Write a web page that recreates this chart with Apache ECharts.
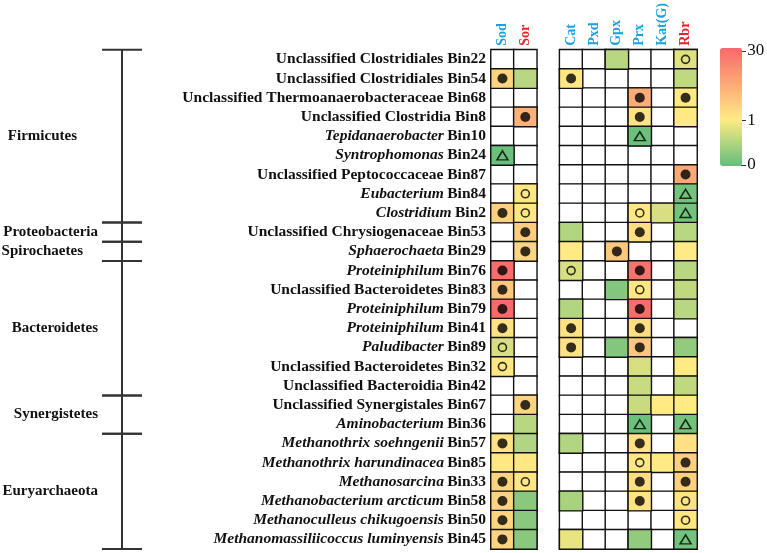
<!DOCTYPE html>
<html>
<head>
<meta charset="utf-8">
<script src="https://cdn.jsdelivr.net/npm/echarts@6/dist/echarts.min.js"></script>
<style>html,body{margin:0;padding:0;background:#fff}#main{width:767px;height:553px}</style>
</head>
<body>
<div id="main"></div>
<script type="text/javascript">
// enzyme columns (a blank gap column goes after Sor)
var enzymes = ['Sod', 'Sor', 'Cat', 'Pxd', 'Gpx', 'Prx', 'Kat(G)', 'Rbr'];
var redHeads = ['Sor', 'Rbr'];

// row labels: [italic part, plain part]
var bins = [
    ['', 'Unclassified Clostridiales Bin22'],
    ['', 'Unclassified Clostridiales Bin54'],
    ['', 'Unclassified Thermoanaerobacteraceae Bin68'],
    ['', 'Unclassified Clostridia Bin8'],
    ['Tepidanaerobacter', 'Bin10'],
    ['Syntrophomonas', 'Bin24'],
    ['', 'Unclassified Peptococcaceae Bin87'],
    ['Eubacterium', 'Bin84'],
    ['Clostridium', 'Bin2'],
    ['', 'Unclassified Chrysiogenaceae Bin53'],
    ['Sphaerochaeta', 'Bin29'],
    ['Proteiniphilum', 'Bin76'],
    ['', 'Unclassified Bacteroidetes Bin83'],
    ['Proteiniphilum', 'Bin79'],
    ['Proteiniphilum', 'Bin41'],
    ['Paludibacter', 'Bin89'],
    ['', 'Unclassified Bacteroidetes Bin32'],
    ['', 'Unclassified Bacteroidia Bin42'],
    ['', 'Unclassified Synergistales Bin67'],
    ['Aminobacterium', 'Bin36'],
    ['Methanothrix soehngenii', 'Bin57'],
    ['Methanothrix harundinacea', 'Bin85'],
    ['Methanosarcina', 'Bin33'],
    ['Methanobacterium arcticum', 'Bin58'],
    ['Methanoculleus chikugoensis', 'Bin50'],
    ['Methanomassiliicoccus luminyensis', 'Bin45']
];

// phyla and how many rows each covers
var groups = [
    ['Firmicutes', 9],
    ['Proteobacteria', 1],
    ['Spirochaetes', 1],
    ['Bacteroidetes', 7],
    ['Synergistetes', 2],
    ['Euryarchaeota', 6]
];

// values per row, order: Sod Sor Cat Pxd Gpx Prx Kat(G) Rbr ; null = blank cell
var abundance = [
    [null, null, null, null, 0.55, null, null, 0.8],
    [6, 0.55, 1.8, null, null, null, null, 0.6],
    [null, null, null, null, null, 15, null, 1.5],
    [null, 14, null, null, null, 3, null, 1.5],
    [null, null, null, null, null, 0.05, null, null],
    [0.05, null, null, null, null, null, null, null],
    [null, null, null, null, null, null, null, 16],
    [null, 2, null, null, null, null, null, 0.1],
    [7, 2, null, null, null, 2, 0.75, 0.1],
    [null, 8, 0.5, null, null, 4, null, 0.55],
    [null, 6, 1.3, null, 9, null, null, 1.3],
    [29, null, 0.75, null, null, 28, null, 0.55],
    [9, null, null, null, 0.2, 2, null, 0.6],
    [30, null, 0.5, null, null, 29, null, 0.55],
    [3, null, 3, null, null, 4, null, null],
    [0.75, null, 3, null, 0.2, 9, null, 0.3],
    [2, null, null, null, null, 0.75, null, 1.3],
    [null, null, null, null, null, 0.65, null, 0.6],
    [null, 6, null, null, null, 0.65, 1.3, 1.3],
    [null, 0.55, null, null, null, 0.05, null, 0.1],
    [3, 0.5, 0.5, null, null, 3, null, 3],
    [1.8, 1.8, null, null, null, 2, 1.3, 7],
    [6, 2, null, null, null, 4, null, 7],
    [6, 0.25, 0.45, null, null, 3, null, 3],
    [6, 0.25, null, null, null, null, null, 2],
    [6, 0.25, 0.85, null, null, 0.3, null, 0.1]
];

// symbols per row: f = filled circle, o = open circle, t = triangle, . = none
var marks = [
    '.......o',
    'f.f.....',
    '.....f.f',
    '.f...f..',
    '.....t..',
    't.......',
    '.......f',
    '.o.....t',
    'fo...o.t',
    '.f...f..',
    '.f..f...',
    'f.o..f..',
    'f....o..',
    'f....f..',
    'f.f..f..',
    'o.f..f..',
    'o.......',
    '........',
    '.f......',
    '.....t.t',
    'f....f..',
    '.....o.f',
    'fo...f.f',
    'f....f.o',
    'f......o',
    'f......t'
];

var scaleTicks = [0, 1, 30];

// colour bar is not linear: 0..1 takes the lower 39%, 1..30 the rest
var MID = 0.393;
function pos(v) {
    return v <= 1 ? MID * v : MID + (1 - MID) * (v - 1) / 29;
}
var stops = [[0, [99, 190, 123]], [MID, [255, 235, 132]], [1, [248, 105, 107]]];
function colorAt(t) {
    for (var i = 1; i < stops.length; i++) {
        if (t <= stops[i][0]) {
            var a = stops[i - 1], b = stops[i];
            var k = (t - a[0]) / (b[0] - a[0]);
            var c = a[1].map(function (x, j) { return Math.round(x + (b[1][j] - x) * k); });
            return 'rgb(' + c.join(',') + ')';
        }
    }
    return 'rgb(248,105,107)';
}
var ramp = [];
for (var i = 0; i <= 40; i++) ramp.push(colorAt(i / 40));

var xCats = ['Sod', 'Sor', '', 'Cat', 'Pxd', 'Gpx', 'Prx', 'Kat(G)', 'Rbr'];
function xi(j) { return j < 2 ? j : j + 1; }
var rowNames = bins.map(function (b) { return b[1]; });

var frame = [], cells = [], filled = [], open = [], tri = [];
abundance.forEach(function (row, r) {
    row.forEach(function (v, j) {
        frame.push([xi(j), r, 1]);
        if (v !== null) cells.push([xi(j), r, pos(v)]);
        var m = marks[r].charAt(j);
        if (m === 'f') filled.push([xi(j), r]);
        if (m === 'o') open.push([xi(j), r]);
        if (m === 't') tri.push([xi(j), r]);
    });
});

var serif = '"Liberation Serif", "Times New Roman", serif';
var myChart = echarts.init(document.getElementById('main'));

var option = {
    animation: false,
    grid: [
        {left: 491, right: 70, top: 49, bottom: 4},
        {left: 741, width: 1, top: 51, height: 114}
    ],
    xAxis: [{
        type: 'category',
        data: xCats,
        position: 'top',
        axisLine: {show: false},
        axisTick: {show: false},
        splitLine: {show: false},
        axisLabel: {
            interval: 0,
            rotate: -90,
            margin: 4,
            fontFamily: serif,
            fontWeight: 'bold',
            fontSize: 14,
            color: function (v) { return redHeads.indexOf(v) >= 0 ? '#e3242b' : '#1ba1dc'; }
        }
    }, {
        gridIndex: 1, type: 'value', show: false
    }],
    yAxis: [{
        type: 'category',
        data: rowNames,
        inverse: true,
        axisLine: {show: false},
        axisTick: {show: false},
        splitLine: {show: false},
        axisLabel: {
            interval: 0,
            margin: 5,
            formatter: function (v, idx) {
                var b = bins[idx];
                return b[0] ? '{i|' + b[0] + '} {b|' + b[1] + '}' : '{b|' + b[1] + '}';
            },
            rich: {
                i: {fontFamily: serif, fontWeight: 'bold', fontStyle: 'italic', fontSize: 15.5, color: '#111'},
                b: {fontFamily: serif, fontWeight: 'bold', fontSize: 15.5, color: '#111'}
            }
        }
    }, {
        gridIndex: 1,
        type: 'value',
        position: 'right',
        min: 0,
        max: 1,
        axisLine: {show: false},
        splitLine: {show: false},
        axisTick: {
            show: true, length: 5,
            customValues: scaleTicks.map(pos),
            lineStyle: {color: '#333', width: 1}
        },
        axisLabel: {
            margin: 6,
            fontFamily: serif,
            fontSize: 17,
            color: '#111',
            customValues: scaleTicks.map(pos),
            formatter: function (v) {
                for (var k = 0; k < scaleTicks.length; k++) {
                    if (Math.abs(pos(scaleTicks[k]) - v) < 1e-6) return String(scaleTicks[k]);
                }
                return '';
            }
        }
    }],
    visualMap: {
        type: 'continuous',
        seriesIndex: 1,
        dimension: 2,
        min: 0,
        max: 1,
        calculable: false,
        hoverLink: false,
        left: 720,
        top: 48,
        padding: 0,
        itemWidth: 22,
        itemHeight: 118,
        text: null,
        showLabel: false,
        inRange: {color: ramp}
    },
    series: [{
        name: 'frame',
        type: 'heatmap',
        data: frame,
        silent: true,
        itemStyle: {color: '#fff', borderColor: '#111', borderWidth: 1.4}
    }, {
        name: 'value',
        type: 'heatmap',
        data: cells,
        silent: true,
        itemStyle: {borderColor: '#111', borderWidth: 1.4}
    }, {
        name: 'filled',
        type: 'scatter',
        data: filled,
        symbol: 'circle',
        symbolSize: 10,
        silent: true,
        itemStyle: {color: '#000'}
    }, {
        name: 'open',
        type: 'scatter',
        data: open,
        symbol: 'circle',
        symbolSize: 8,
        silent: true,
        itemStyle: {color: 'transparent', borderColor: '#000', borderWidth: 1.6}
    }, {
        name: 'triangle',
        type: 'scatter',
        data: tri,
        symbol: 'triangle',
        symbolSize: [11, 9],
        silent: true,
        itemStyle: {color: 'transparent', borderColor: '#000', borderWidth: 1.5}
    }, {
        name: 'phylum',
        type: 'custom',
        clip: false,
        silent: true,
        data: groups.map(function (g, k) { return k; }),
        renderItem: function (params, api) {
            var start = 0;
            for (var k = 0; k < params.dataIndex; k++) start += groups[k][1];
            var g = groups[params.dataIndex];
            var h = api.size([0, 1])[1];
            var y0 = api.coord([0, start])[1] - h / 2;
            var y1 = api.coord([0, start + g[1] - 1])[1] + h / 2;
            var line = {stroke: '#333', lineWidth: 2};
            var labelRight = {Firmicutes: 77, Spirochaetes: 83};
            var lx = labelRight[g[0]] || 98;
            return {
                type: 'group',
                children: [
                    {type: 'line', shape: {x1: 102, y1: y0, x2: 142, y2: y0}, style: line},
                    {type: 'line', shape: {x1: 102, y1: y1, x2: 142, y2: y1}, style: line},
                    {type: 'line', shape: {x1: 122, y1: y0, x2: 122, y2: y1}, style: line},
                    {type: 'text', style: {
                        text: g[0], x: lx, y: (y0 + y1) / 2,
                        align: 'right', verticalAlign: 'middle',
                        font: 'bold 15px ' + serif, fill: '#111'
                    }}
                ]
            };
        }
    }]
};

myChart.setOption(option);
</script>
</body>
</html>
